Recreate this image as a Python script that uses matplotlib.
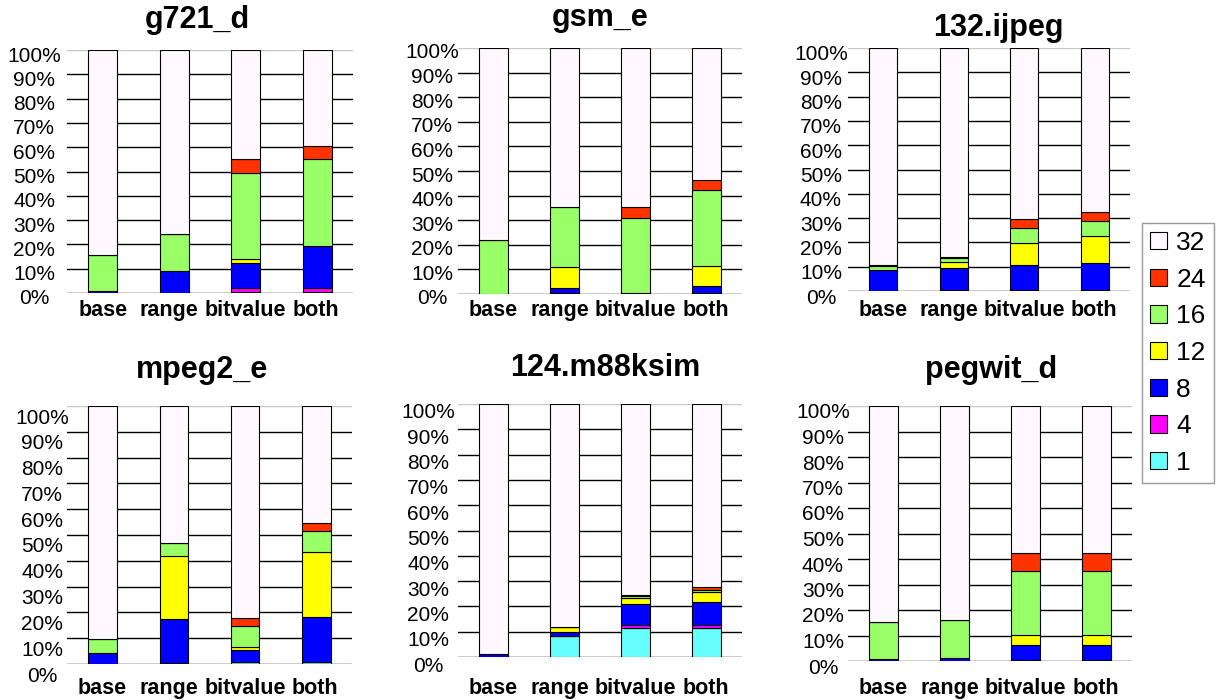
import matplotlib
matplotlib.use('Agg')
import matplotlib.pyplot as plt
import matplotlib.transforms as mtransforms
from matplotlib.patches import Patch

plt.rcParams['font.family'] = ['Liberation Sans', 'DejaVu Sans']

# categories and stack classes (bottom -> top)
configs = ['base', 'range', 'bitvalue', 'both']
widths = ['1', '4', '8', '12', '16', '24', '32']
colors = ['#66FFFF', '#FF00FF', '#0000FF', '#FFFF00', '#99FF66', '#FF3300', '#FFF8FF']
pct_ticks = [0, 10, 20, 30, 40, 50, 60, 70, 80, 90, 100]

titles = ['g721_d', 'gsm_e', '132.ijpeg', 'mpeg2_e', '124.m88ksim', 'pegwit_d']

# percent per width class, one row per config (1, 4, 8, 12, 16, 24, 32)
g721_d = [
    [0.0, 0.0, 0.8, 0.0, 14.9, 0.0, 84.3],
    [0.2, 0.0, 9.0, 0.0, 15.1, 0.0, 75.7],
    [0.3, 1.6, 10.3, 1.9, 35.3, 5.7, 44.9],
    [0.3, 1.9, 17.2, 0.0, 35.7, 5.5, 39.4],
]
gsm_e = [
    [0.0, 0.0, 0.0, 0.0, 22.1, 0.0, 77.9],
    [0.4, 0.0, 2.0, 8.7, 24.3, 0.0, 64.6],
    [0.2, 0.0, 0.3, 0.0, 30.4, 4.5, 64.6],
    [0.3, 0.0, 2.8, 8.4, 30.8, 4.2, 53.5],
]
ijpeg = [
    [0.0, 0.0, 8.5, 0.0, 1.7, 0.3, 89.5],
    [0.3, 0.0, 9.0, 2.7, 1.5, 0.3, 86.2],
    [0.3, 0.0, 10.4, 9.2, 5.9, 3.9, 70.3],
    [0.3, 0.0, 11.1, 11.3, 6.0, 3.9, 67.4],
]
mpeg2_e = [
    [0.0, 0.0, 4.1, 0.0, 5.5, 0.0, 90.4],
    [0.5, 0.0, 16.9, 24.3, 5.2, 0.0, 53.1],
    [0.8, 0.0, 4.8, 1.0, 8.0, 3.2, 82.2],
    [0.8, 0.0, 17.5, 25.2, 8.2, 3.0, 45.3],
]
m88ksim = [
    [0.0, 0.0, 1.3, 0.0, 0.0, 0.0, 98.7],
    [8.2, 0.0, 1.5, 2.0, 0.0, 0.0, 88.3],
    [11.5, 1.0, 8.3, 2.4, 0.8, 0.6, 75.4],
    [11.5, 1.0, 9.1, 4.0, 1.0, 1.1, 72.3],
]
pegwit_d = [
    [0.0, 0.0, 0.9, 0.0, 14.5, 0.0, 84.6],
    [0.0, 0.0, 1.0, 0.0, 15.1, 0.0, 83.9],
    [0.3, 0.0, 6.0, 3.9, 25.1, 7.2, 57.5],
    [0.3, 0.0, 6.0, 3.9, 25.1, 7.2, 57.5],
]
datasets = [g721_d, gsm_e, ijpeg, mpeg2_e, m88ksim, pegwit_d]

W, H = 1216, 700
# pixel layout: axes box (x0, ytop, x1, ybottom), ylabel pad, xlabel pad, ylabel shift, title xy
boxes = [(67, 50, 353, 293), (458, 48, 742, 294), (848, 48, 1130, 291),
         (67, 406, 352, 664), (458, 404, 742, 657), (848, 406, 1132, 661)]
ypads = [33, 26, 27, 25, 30, 25]
xpads = [7, 6, 9, 14, 21, 17]
yshift = [4, 3, 5, 10, 7, 5]
xlab_nudge = [0, -5, 0, -1]
title_xy = [(197, 20), (600, 18), (998, 28), (202, 370), (605, 368), (991, 370)]

fig = plt.figure(figsize=(W / 100, H / 100), dpi=100)
px = 72 / 100  # points per pixel

for k, data in enumerate(datasets):
    x0, yt, x1, yb = boxes[k]
    ax = fig.add_axes([x0 / W, 1 - yb / H, (x1 - x0) / W, (yb - yt) / H])
    bottom = [0.0] * len(configs)
    for j, c in enumerate(colors):
        vals = [row[j] for row in data]
        ax.bar(range(len(configs)), vals, width=0.4, bottom=bottom, color=c,
               edgecolor='black', linewidth=0.8, zorder=3)
        bottom = [b + v for b, v in zip(bottom, vals)]
    ax.set_xlim(-0.5, 3.5)
    ax.set_ylim(0, 100)
    ax.set_yticks(pct_ticks)
    ax.set_yticklabels([f'{t}%' for t in pct_ticks], fontsize=15)
    ax.set_xticks(range(len(configs)))
    ax.set_xticklabels(configs, fontsize=15.5, fontweight='bold')
    ax.tick_params(length=0)
    ax.tick_params(axis='y', pad=ypads[k] * px)
    ax.tick_params(axis='x', pad=xpads[k] * px)
    off = mtransforms.ScaledTranslation(0, -yshift[k] / 100, fig.dpi_scale_trans)
    for lab in ax.get_yticklabels():
        lab.set_ha('center')
        lab.set_transform(lab.get_transform() + off)
    for lab, dx in zip(ax.get_xticklabels(), xlab_nudge):
        lab.set_transform(lab.get_transform() +
                          mtransforms.ScaledTranslation(dx / 100, 0, fig.dpi_scale_trans))
    ax.grid(axis='y', color='black', linewidth=1.0, zorder=0)
    ax.set_axisbelow(True)
    ax.get_ygridlines()[-1].set_color('#C8C8C8')
    for s in ax.spines.values():
        s.set_visible(False)
    tx, ty = title_xy[k]
    fig.text(tx / W, 1 - ty / H, titles[k], fontsize=22, fontweight='bold',
             ha='center', va='center')

handles = [Patch(facecolor=c, edgecolor='black', linewidth=0.8) for c in colors]
leg = fig.legend(handles[::-1], widths[::-1], loc='upper left',
                 bbox_to_anchor=(1142 / W, 1 - 223 / H), borderaxespad=0,
                 fontsize=19, frameon=True, fancybox=False, edgecolor='#808080',
                 handlelength=0.65, handleheight=0.65, handletextpad=0.35,
                 labelspacing=0.48, borderpad=0.3)
leg.get_frame().set_linewidth(1.0)

fig.savefig('out.png', dpi=100)
